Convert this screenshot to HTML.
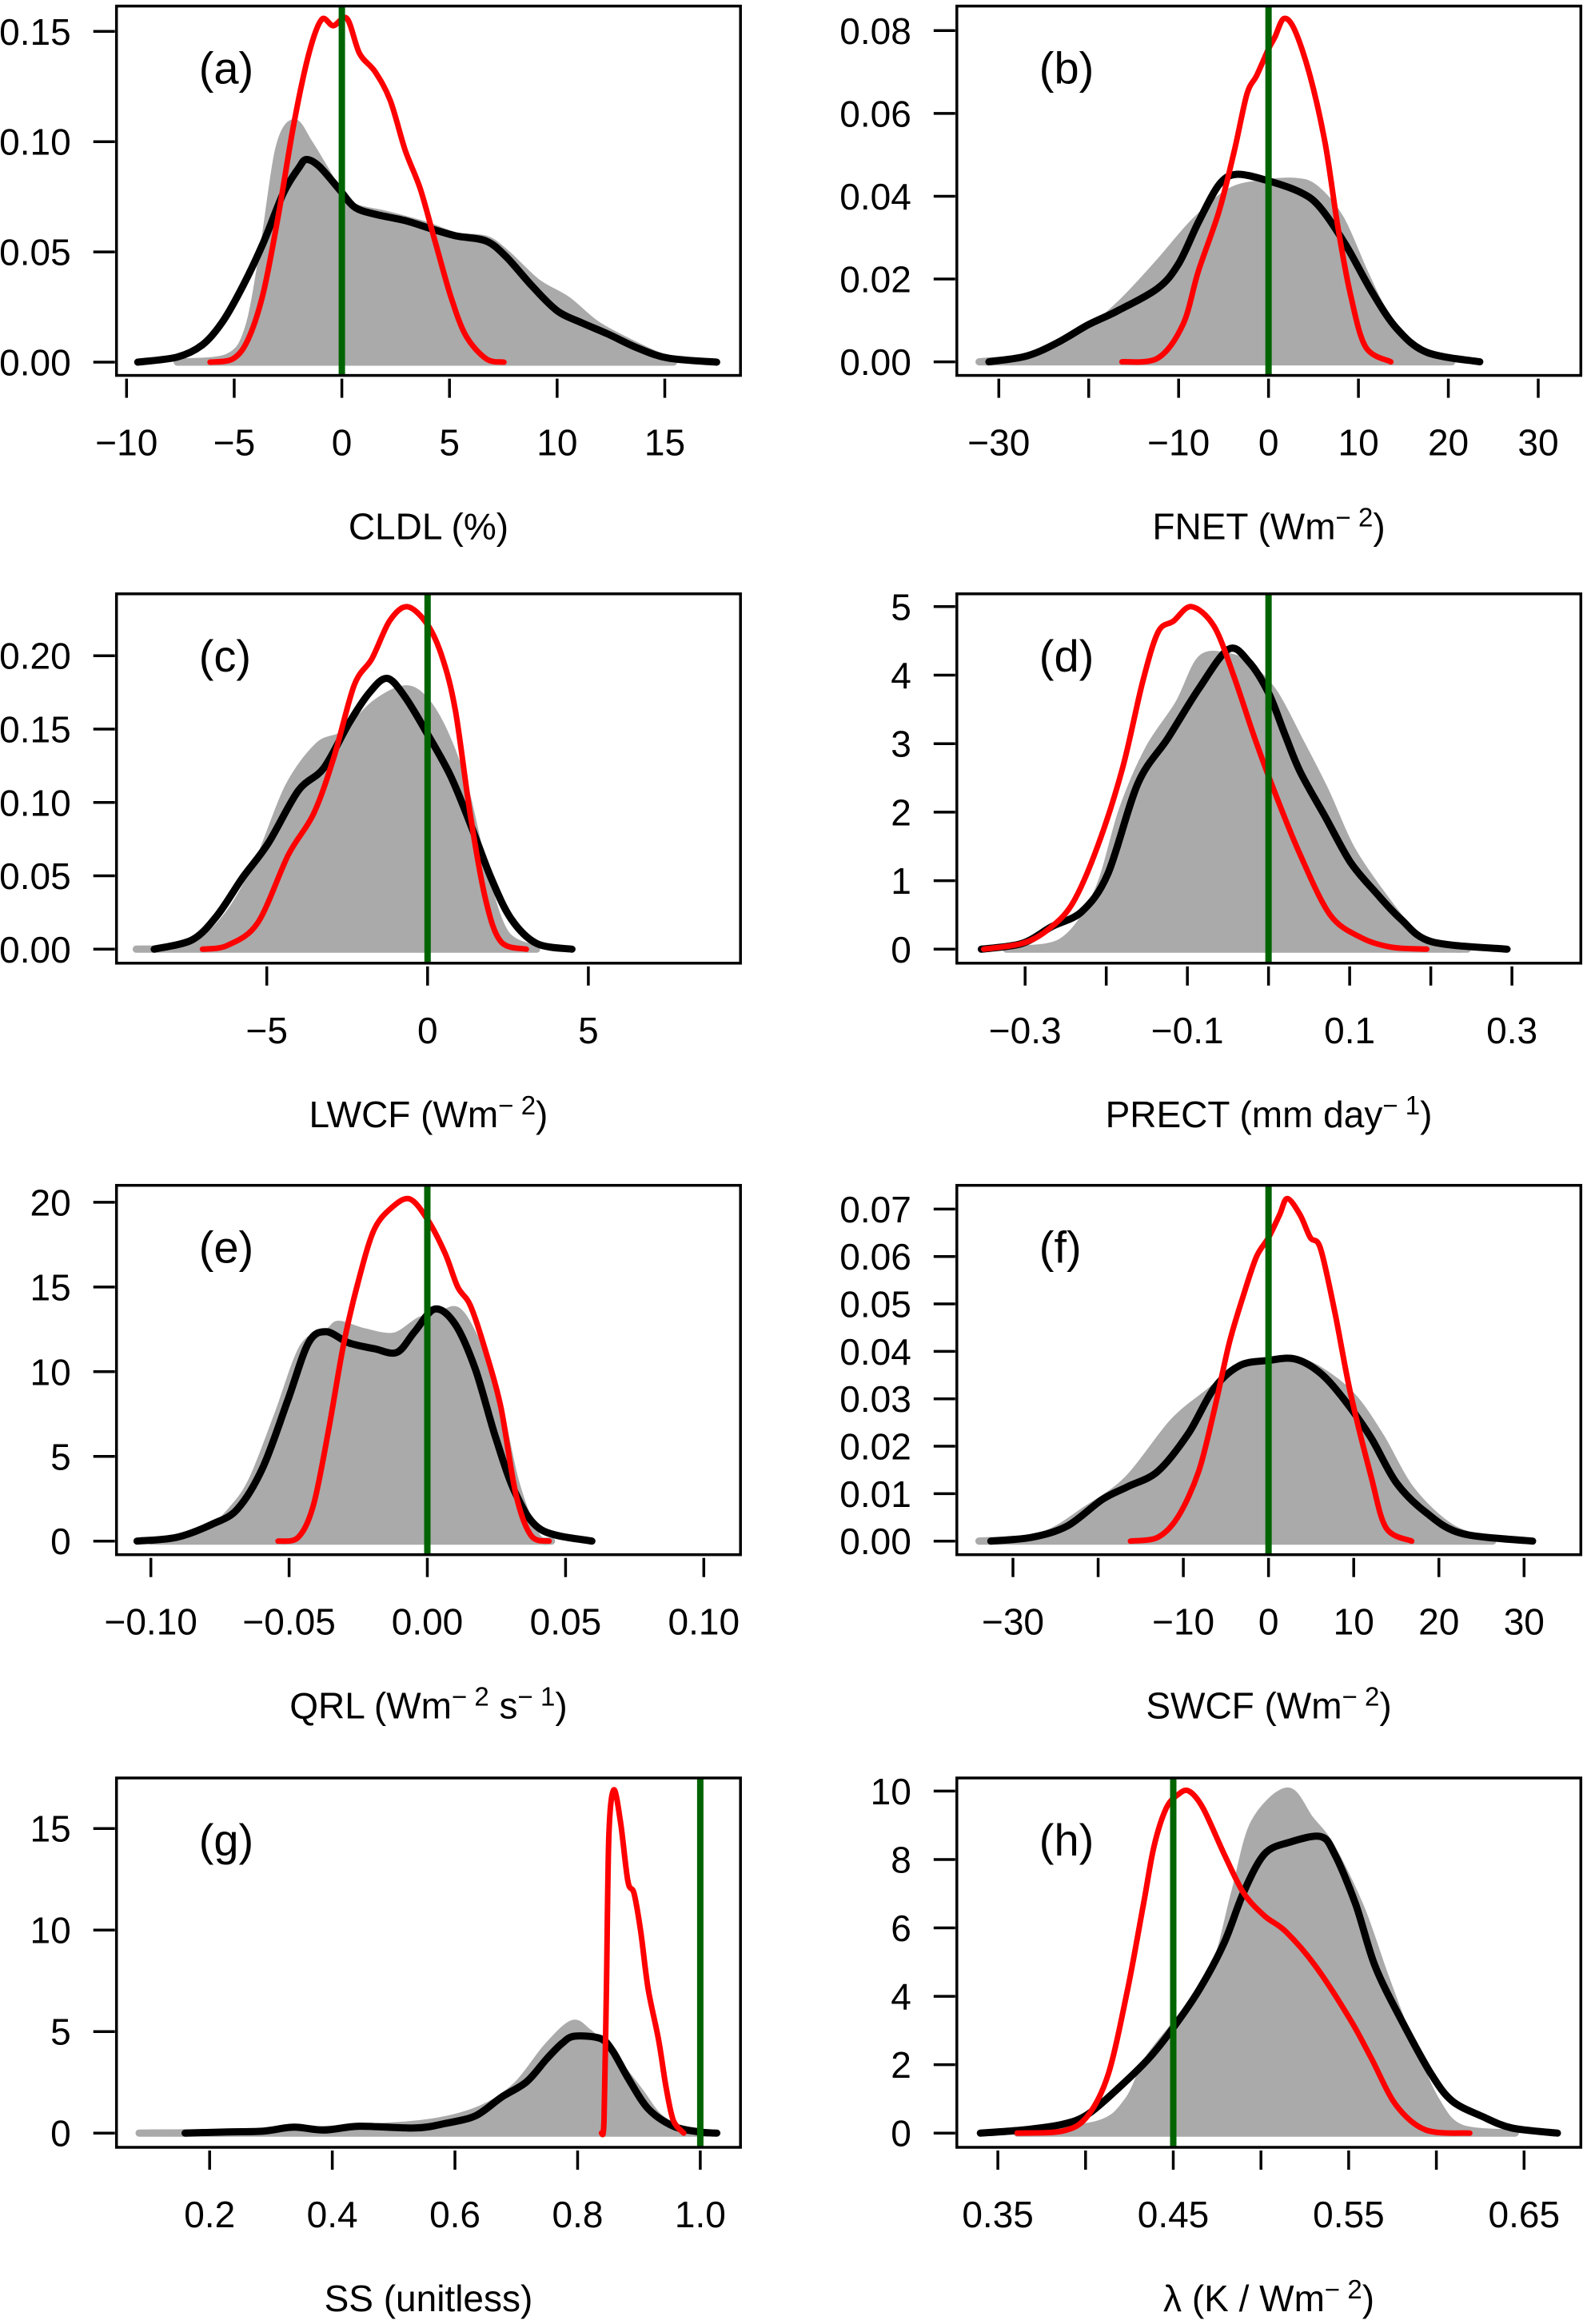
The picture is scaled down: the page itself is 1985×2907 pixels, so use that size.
<!DOCTYPE html>
<html><head><meta charset="utf-8">
<style>
html,body{margin:0;padding:0;background:#fff;}
svg{display:block;}
text{font-family:"Liberation Sans",Arial,sans-serif;fill:#000;}
</style></head>
<body>
<svg id="fig" xmlns="http://www.w3.org/2000/svg" width="1985" height="2907" viewBox="0 0 1985 2907"></svg>
<script>
// ---- Panel (a) CLDL ----
const aGreyX=[-7.65,-5.29,-4.35,-3.65,-2.94,-2.24,-1.53,-0.82,-0.12,0.59,2.0,3.88,5.29,6.71,7.65,9.06,10.47,11.88,13.76,15.41];
const aGreyY=[0,.0023,.0152,.0509,.0962,.1087,.0995,.0881,.0768,.0703,.0671,.0622,.0573,.0557,.0492,.0363,.0282,.0168,.0071,0];
const aBlackX=[-9.48,-7.65,-6.47,-5.53,-4.59,-3.65,-2.71,-2.0,-1.65,-1.06,-0.12,0.59,1.53,2.94,4.12,5.29,6.71,7.65,8.82,10.0,11.18,12.35,13.76,15.18,17.41];
const aBlackY=[0,.0023,.0079,.0185,.0347,.0541,.0768,.0881,.0919,.0889,.0784,.0703,.0671,.0642,.0606,.0573,.0549,.0476,.0347,.0233,.0177,.0128,.0063,.0018,0];
const aRedX=[-6.12,-5.06,-4.35,-3.65,-2.94,-2.24,-1.53,-0.94,-0.4,0.24,0.82,1.53,2.24,2.94,3.65,4.35,5.06,5.76,6.71,7.53];
const aRedY=[0,.0015,.0104,.0314,.0671,.1076,.14,.1554,.1526,.1558,.14,.1319,.1189,.0962,.0784,.0541,.0298,.012,.0015,0];
const aGreen=0;
const aXTicks=[-10,-5,0,5,10,15];
const aXLabels=["−10","−5","0","5","10","15"];
const aYTicks=[0,0.05,0.10,0.15];
const aYLabels=["0.00","0.05","0.10","0.15"];

// ---- Panel (b) FNET ----
const bGreyX=[-32.2,-24.6,-20.1,-16.2,-12.3,-8.3,-4.4,-1.0,2.9,5.2,8.0,10.8,13.6,17.0,20.4];
const bGreyY=[0,.0018,.0073,.0146,.0237,.0337,.041,.043,.0436,.0419,.0346,.021,.0091,.0018,0];
const bBlackX=[-31.1,-26.9,-23.5,-20.1,-16.8,-12.3,-10.0,-7.8,-5.5,-3.5,0,3.5,5.7,8.6,11.4,14.2,17.6,23.5];
const bBlackY=[0,.0014,.0046,.0089,.0123,.0178,.0237,.0337,.0428,.0453,.0437,.041,.0374,.0282,.0173,.0082,.0023,0];
const bRedX=[-16.3,-12.3,-9.5,-7.8,-5.5,-3.8,-2.4,-1.3,0,0.7,1.7,2.9,4.6,6.3,7.7,9.1,10.8,13.6];
const bRedY=[0,.0009,.0091,.0219,.0364,.051,.0647,.0692,.0756,.0784,.0829,.0802,.0692,.0528,.0328,.0164,.0036,0];
const bGreen=0;
const bXTicks=[-30,-20,-10,0,10,20,30];
const bXLabels=["−30","","−10","0","10","20","30"];
const bYTicks=[0,0.02,0.04,0.06,0.08];
const bYLabels=["0.00","0.02","0.04","0.06","0.08"];

// ---- Panel (c) LWCF ----
const cGreyX=[-9.06,-7.32,-6.22,-5.28,-4.33,-3.39,-2.6,-1.65,-0.71,-0.08,0.55,1.18,1.81,2.44,3.39];
const cGreyY=[0,.0026,.0231,.0591,.1105,.1388,.1465,.1671,.1774,.1697,.1465,.108,.0488,.0103,0];
const cBlackX=[-8.5,-7.32,-6.54,-5.75,-4.96,-4.02,-3.23,-2.44,-1.81,-1.26,-0.71,0,0.71,1.34,1.97,2.6,3.39,4.49];
const cBlackY=[0,.0064,.0231,.0488,.072,.108,.1234,.1542,.1748,.1846,.1722,.1465,.1183,.0848,.0488,.0206,.0039,0];
const cRedX=[-7.0,-6.22,-5.28,-4.33,-3.54,-2.91,-2.28,-1.73,-1.18,-0.63,0,0.47,0.87,1.34,1.81,2.28,3.07];
const cRedY=[0,.0026,.018,.0643,.0925,.1311,.18,.198,.2237,.2334,.2211,.198,.162,.09,.0334,.0051,0];
const cGreen=0;
const cXTicks=[-5,0,5];
const cXLabels=["−5","0","5"];
const cYTicks=[0,0.05,0.10,0.15,0.20];
const cYLabels=["0.00","0.05","0.10","0.15","0.20"];

// ---- Panel (d) PRECT ----
const dGreyX=[-0.323,-0.255,-0.211,-0.18,-0.148,-0.111,-0.083,-0.049,-0.024,0.007,0.039,0.07,0.101,0.138,0.176,0.213,0.245];
const dGreyY=[0,.11,.83,2.04,2.92,3.58,4.24,4.27,4.13,3.74,3.03,2.31,1.49,.83,.28,.03,0];
const dBlackX=[-0.354,-0.304,-0.267,-0.23,-0.198,-0.161,-0.124,-0.086,-0.049,-0.024,0,0.02,0.039,0.07,0.101,0.132,0.163,0.201,0.294];
const dBlackY=[0,.083,.33,.55,1.10,2.42,3.08,3.80,4.38,4.19,3.74,3.14,2.59,1.93,1.27,.83,.44,.11,0];
const dRedX=[-0.351,-0.304,-0.273,-0.242,-0.211,-0.18,-0.155,-0.136,-0.117,-0.095,-0.067,-0.042,-0.017,0.007,0.039,0.076,0.114,0.151,0.195];
const dRedY=[0,.083,.275,.66,1.49,2.64,3.91,4.63,4.79,5.0,4.71,3.96,3.08,2.31,1.38,.50,.17,.03,0];
const dGreen=0;
const dXTicks=[-0.3,-0.2,-0.1,0,0.1,0.2,0.3];
const dXLabels=["−0.3","","−0.1","","0.1","","0.3"];
const dYTicks=[0,1,2,3,4,5];
const dYLabels=["0","1","2","3","4","5"];

// ---- Panel (e) QRL ----
const eGreyX=[-0.0998,-0.0815,-0.0705,-0.0632,-0.0541,-0.0449,-0.0357,-0.032,-0.0229,-0.0119,-0.0027,0.0046,0.011,0.0174,0.0247,0.032,0.0394,0.0449];
const eGreyY=[0,.33,1.89,3.67,7.46,11.47,12.36,12.8,12.36,12.1,13.03,13.36,13.59,11.9,8.8,3.45,.33,0];
const eBlackX=[-0.105,-0.0907,-0.0778,-0.0687,-0.0595,-0.0504,-0.043,-0.0366,-0.0284,-0.0192,-0.011,-0.0046,0.0027,0.0101,0.0174,0.0247,0.032,0.0412,0.0595];
const eBlackY=[0,.22,1.0,1.89,4.34,8.35,11.7,12.36,11.7,11.36,11.14,12.36,13.7,12.8,10.13,6.12,2.78,.67,0];
const eRedX=[-0.054,-0.0467,-0.0412,-0.0357,-0.0302,-0.0247,-0.0192,-0.0128,-0.0064,0,0.0064,0.011,0.0156,0.0211,0.0266,0.032,0.0375,0.044];
const eRedY=[0,.22,2.12,6.57,11.7,15.5,18.4,19.7,20.2,19.0,17.0,15.0,13.9,11.2,7.9,2.78,.33,0];
const eGreen=0;
const eXTicks=[-0.10,-0.05,0,0.05,0.10];
const eXLabels=["−0.10","−0.05","0.00","0.05","0.10"];
const eYTicks=[0,5,10,15,20];
const eYLabels=["0","5","10","15","20"];

// ---- Panel (f) SWCF ----
const fGreyX=[-34.0,-26.6,-21.3,-16.5,-11.2,-7.0,-4.0,-0.5,3.7,7.2,10.2,13.2,16.8,21.5,26.3];
const fGreyY=[0,.0012,.0068,.0131,.0251,.0314,.0358,.037,.0378,.0346,.0298,.0219,.0107,.0028,0];
const fBlackX=[-32.6,-27.8,-23.6,-19.5,-16.5,-13.0,-9.4,-6.4,-3.4,0,3.1,6.1,8.9,12.0,15.0,18.5,22.7,31.0];
const fBlackY=[0,.0008,.0032,.0088,.0115,.0147,.0227,.0322,.037,.0381,.0384,.0354,.0298,.0219,.0123,.006,.0016,0];
const fRedX=[-16.2,-13.0,-10.6,-8.2,-6.4,-4.6,-2.9,-1.4,0,1.3,2.2,3.7,4.9,6.1,7.8,9.6,12.0,13.8,16.8];
const fRedY=[0,.0008,.0052,.0147,.0274,.0418,.0521,.06,.064,.0688,.0722,.0688,.064,.0617,.0481,.0314,.0139,.0028,0];
const fGreen=0;
const fXTicks=[-30,-20,-10,0,10,20,30];
const fXLabels=["−30","","−10","0","10","20","30"];
const fYTicks=[0,0.01,0.02,0.03,0.04,0.05,0.06,0.07];
const fYLabels=["0.00","0.01","0.02","0.03","0.04","0.05","0.06","0.07"];

// ---- Panel (g) SS ----
const gGreyX=[0.085,0.271,0.436,0.56,0.643,0.7,0.75,0.791,0.816,0.849,0.899,0.932,0.973,1.014];
const gGreyY=[0,.06,.25,.53,1.2,2.34,4.24,5.38,5.0,4.05,2.15,.82,.15,0];
const gBlackX=[0.16,0.23,0.288,0.337,0.387,0.444,0.535,0.585,0.634,0.676,0.717,0.75,0.775,0.795,0.837,0.857,0.882,0.915,0.956,0.998,1.027];
const gBlackY=[0,.06,.1,.29,.15,.34,.25,.48,.86,1.77,2.53,3.67,4.43,4.77,4.66,4.05,2.72,1.2,.34,.06,0];
const gRedX=[0.839,0.843,0.847,0.851,0.859,0.87,0.882,0.892,0.903,0.915,0.932,0.944,0.956,0.973];
const gRedY=[0,.63,7.1,14.7,16.9,15.3,12.4,11.8,9.9,7.1,4.6,2.3,.63,0];
const gGreen=1.0;
const gXTicks=[0.2,0.4,0.6,0.8,1.0];
const gXLabels=["0.2","0.4","0.6","0.8","1.0"];
const gYTicks=[0,5,10,15];
const gYLabels=["0","5","10","15"];

// ---- Panel (h) lambda ----
const hGreyX=[0.361,0.407,0.424,0.436,0.453,0.473,0.485,0.496,0.515,0.528,0.54,0.557,0.571,0.586,0.6,0.614,0.645];
const hGreyY=[0,.26,.94,2.18,3.31,4.77,7.03,9.06,10.0,9.18,8.38,6.58,4.55,2.52,.94,.15,0];
const hBlackX=[0.34,0.364,0.387,0.401,0.418,0.436,0.45,0.465,0.479,0.49,0.502,0.516,0.534,0.542,0.554,0.565,0.58,0.597,0.609,0.626,0.643,0.669];
const hBlackY=[0,.09,.26,.54,1.28,2.18,3.08,4.21,5.56,7.03,8.16,8.5,8.67,8.16,6.69,4.89,3.31,1.73,.94,.49,.15,0];
const hRedX=[0.361,0.387,0.401,0.413,0.424,0.433,0.439,0.446,0.453,0.459,0.467,0.479,0.49,0.502,0.514,0.531,0.551,0.563,0.577,0.594,0.619];
const hRedY=[0,.06,.49,1.73,4.21,6.69,8.38,9.5,9.91,10.0,9.5,8.16,7.03,6.35,5.9,4.89,3.31,2.18,.82,.09,0];
const hGreen=0.45;
const hXTicks=[0.35,0.40,0.45,0.50,0.55,0.60,0.65];
const hXLabels=["0.35","","0.45","","0.55","","0.65"];
const hYTicks=[0,2,4,6,8,10];
const hYLabels=["0","2","4","6","8","10"];

const NS="http://www.w3.org/2000/svg";
const svg=document.getElementById('fig');
function mk(tag,attrs,parent){const e=document.createElementNS(NS,tag);for(const k in attrs)e.setAttribute(k,attrs[k]);(parent||svg).appendChild(e);return e;}

// smooth path through points (Catmull-Rom -> Bezier)
function smooth(pts){
  let d='M'+pts[0][0].toFixed(1)+','+pts[0][1].toFixed(1);
  const k=0.16;
  for(let i=0;i<pts.length-1;i++){
    const p0=pts[Math.max(0,i-1)],p1=pts[i],p2=pts[i+1],p3=pts[Math.min(pts.length-1,i+2)];
    const c1x=p1[0]+(p2[0]-p0[0])*k,c1y=p1[1]+(p2[1]-p0[1])*k;
    const c2x=p2[0]-(p3[0]-p1[0])*k,c2y=p2[1]-(p3[1]-p1[1])*k;
    d+=' C'+c1x.toFixed(1)+','+c1y.toFixed(1)+' '+c2x.toFixed(1)+','+c2y.toFixed(1)+' '+p2[0].toFixed(1)+','+p2[1].toFixed(1);
  }
  return d;
}

const W=780.5,H=462;
const panels=[
 {id:'a',left:145.7,top:7.6,xr:[12.6,-10,685.8,15],yr:[445.4,0,31.7,0.15],gx:aGreyX,gy:aGreyY,kx:aBlackX,ky:aBlackY,rx:aRedX,ry:aRedY,green:aGreen,xt:aXTicks,xl:aXLabels,yt:aYTicks,yl:aYLabels,title:[["CLDL (%)",0]]},
 {id:'b',left:1196.8,top:7.6,xr:[52.5,-30,727.2,30],yr:[445,0,30.7,0.08],gx:bGreyX,gy:bGreyY,kx:bBlackX,ky:bBlackY,rx:bRedX,ry:bRedY,green:bGreen,xt:bXTicks,xl:bXLabels,yt:bYTicks,yl:bYLabels,title:[["FNET (Wm",0],["− 2",1],[")",0]]},
 {id:'c',left:145.7,top:742.8,xr:[188,-5,590.2,5],yr:[444.5,0,77.4,0.2],gx:cGreyX,gy:cGreyY,kx:cBlackX,ky:cBlackY,rx:cRedX,ry:cRedY,green:cGreen,xt:cXTicks,xl:cXLabels,yt:cYTicks,yl:cYLabels,title:[["LWCF (Wm",0],["− 2",1],[")",0]]},
 {id:'d',left:1196.8,top:742.8,xr:[85.4,-0.3,694.3,0.3],yr:[444.5,0,16,5],gx:dGreyX,gy:dGreyY,kx:dBlackX,ky:dBlackY,rx:dRedX,ry:dRedY,green:dGreen,xt:dXTicks,xl:dXLabels,yt:dYTicks,yl:dYLabels,title:[["PRECT (mm day",0],["− 1",1],[")",0]]},
 {id:'e',left:145.7,top:1482.7,xr:[43,-0.1,734.6,0.1],yr:[445,0,21.2,20],gx:eGreyX,gy:eGreyY,kx:eBlackX,ky:eBlackY,rx:eRedX,ry:eRedY,green:eGreen,xt:eXTicks,xl:eXLabels,yt:eYTicks,yl:eYLabels,title:[["QRL (Wm",0],["− 2",1],[" s",0],["− 1",1],[")",0]]},
 {id:'f',left:1196.8,top:1482.7,xr:[70.2,-30,709.5,30],yr:[445,0,29.7,0.07],gx:fGreyX,gy:fGreyY,kx:fBlackX,ky:fBlackY,rx:fRedX,ry:fRedY,green:fGreen,xt:fXTicks,xl:fXLabels,yt:fYTicks,yl:fYLabels,title:[["SWCF (Wm",0],["− 2",1],[")",0]]},
 {id:'g',left:145.7,top:2224,xr:[116.5,0.2,730.2,1.0],yr:[444.2,0,63.2,15],gx:gGreyX,gy:gGreyY,kx:gBlackX,ky:gBlackY,rx:gRedX,ry:gRedY,green:gGreen,xt:gXTicks,xl:gXLabels,yt:gYTicks,yl:gYLabels,title:[["SS (unitless)",0]]},
 {id:'h',left:1196.8,top:2224,xr:[51.3,0.35,709.5,0.65],yr:[444.2,0,16.4,10],gx:hGreyX,gy:hGreyY,kx:hBlackX,ky:hBlackY,rx:hRedX,ry:hRedY,green:hGreen,xt:hXTicks,xl:hXLabels,yt:hYTicks,yl:hYLabels,title:[["λ (K / Wm",0],["− 2",1],[")",0]]}
];

panels.forEach(p=>{
  const g=mk('g',{});
  
  
  const sx=v=>p.left+p.xr[0]+(v-p.xr[1])*(p.xr[2]-p.xr[0])/(p.xr[3]-p.xr[1]);
  const sy=v=>p.top+p.yr[0]+(v-p.yr[1])*(p.yr[2]-p.yr[0])/(p.yr[3]-p.yr[1]);
  const cp=mk('clipPath',{id:'clip-'+p.id},g);
  mk('rect',{x:p.left,y:p.top,width:W,height:H},cp);
  const plot=mk('g',{'clip-path':'url(#clip-'+p.id+')'},g);
  // grey fill
  const gpts=p.gx.map((x,i)=>[sx(x),sy(p.gy[i])]);
  let d=smooth(gpts)+' Z';
  const grey=mk('path',{d:d,fill:'#aaaaaa',stroke:'#aaaaaa','stroke-width':9,'stroke-linejoin':'round','stroke-linecap':'round'},plot);
  
  
  const line=(xs,ys,col,w,name)=>{
    const pts=xs.map((x,i)=>[sx(x),sy(ys[i])]);
    const e=mk('path',{d:smooth(pts),fill:'none',stroke:col,'stroke-width':w,'stroke-linejoin':'round','stroke-linecap':'round'},plot);
    
    
  };
  line(p.kx,p.ky,'#000000',9,'black-density-'+p.id);
  line(p.rx,p.ry,'#ff0000',7,'red-density-'+p.id);
  const gl=mk('line',{x1:sx(p.green),x2:sx(p.green),y1:p.top,y2:p.top+H,stroke:'#006400','stroke-width':8},plot);
  
  
  const box=mk('rect',{x:p.left,y:p.top,width:W,height:H,fill:'none',stroke:'#000','stroke-width':3.5},g);
  
  
  // x ticks
  p.xt.forEach((v,i)=>{
    const x=sx(v);
    const t=mk('line',{x1:x,x2:x,y1:p.top+H+4,y2:p.top+H+28,stroke:'#000','stroke-width':3.5},g);
    
    
    if(p.xl[i]){
      const tx=mk('text',{x:x,y:p.top+562,'font-size':46,'text-anchor':'middle'},g);
      tx.textContent=p.xl[i];
      
      
    }
  });
  // y ticks
  p.yt.forEach((v,i)=>{
    const y=sy(v);
    const t=mk('line',{x1:p.left-29,x2:p.left-2,y1:y,y2:y,stroke:'#000','stroke-width':3.5},g);
    
    
    const tx=mk('text',{x:p.left-57,y:y+16.5,'font-size':46,'text-anchor':'end'},g);
    tx.textContent=p.yl[i];
    
    
  });
  // panel label
  const lab=mk('text',{x:p.left+103,y:p.top+97,'font-size':56},g);
  lab.textContent='('+p.id+')';
  
  
  // title
  const tt=mk('text',{x:p.left+W/2,y:p.top+667,'font-size':46,'text-anchor':'middle'},g);
  
  
  p.title.forEach(([s,sup])=>{
    const ts=mk('tspan',{},tt);
    if(sup){ts.setAttribute('font-size','33');ts.setAttribute('dy','-16');}
    else if(tt.childNodes.length>1){ts.setAttribute('dy','16');}
    ts.textContent=s;
  });
});
</script>
</body></html>
